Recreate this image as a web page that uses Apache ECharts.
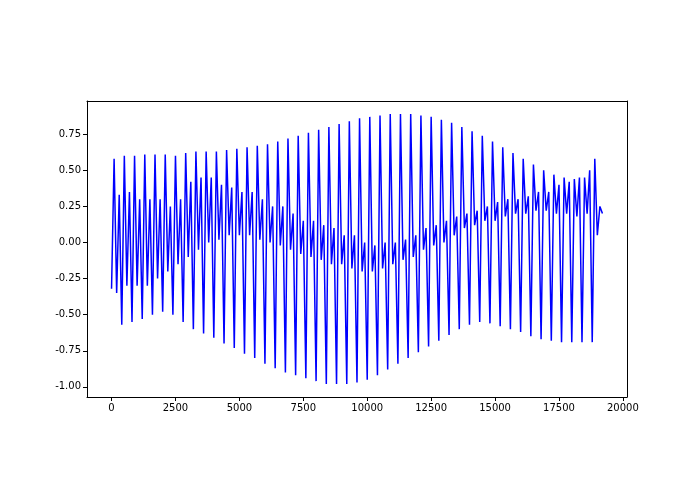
<!DOCTYPE html><html><head><meta charset="utf-8"><script src="https://cdn.jsdelivr.net/npm/echarts@6/dist/echarts.min.js"></script></head><body style="margin:0"><div id="c" style="width:695px;height:494px"></div><script>
const peaks=[0.58,0.6,0.6,0.61,0.61,0.61,0.6,0.62,0.63,0.63,0.63,0.64,0.65,0.66,0.67,0.68,0.7,0.72,0.74,0.76,0.78,0.8,0.82,0.84,0.86,0.87,0.88,0.89,0.89,0.89,0.88,0.87,0.85,0.83,0.8,0.77,0.74,0.7,0.66,0.62,0.58,0.54,0.5,0.47,0.45,0.44,0.45,0.58];
const troughs=[-0.32,-0.57,-0.55,-0.53,-0.5,-0.48,-0.5,-0.55,-0.6,-0.63,-0.66,-0.7,-0.73,-0.77,-0.8,-0.84,-0.87,-0.9,-0.92,-0.94,-0.96,-0.98,-0.98,-0.98,-0.97,-0.95,-0.92,-0.88,-0.84,-0.8,-0.76,-0.72,-0.68,-0.64,-0.6,-0.57,-0.55,-0.56,-0.58,-0.6,-0.62,-0.65,-0.67,-0.68,-0.69,-0.69,-0.69,-0.69];
const midHigh=[0.33,0.35,0.3,0.3,0.3,0.25,0.3,0.42,0.45,0.45,0.4,0.38,0.35,0.35,0.3,0.25,0.25,0.2,0.15,0.15,0.12,0.1,0.05,0.05,0.0,-0.02,0.0,0.0,0.02,0.05,0.1,0.12,0.15,0.18,0.2,0.22,0.25,0.28,0.3,0.3,0.32,0.35,0.35,0.4,0.42,0.45,0.5,0.25];
const midLow=[-0.35,-0.3,-0.3,-0.3,-0.25,-0.2,-0.15,-0.1,-0.05,0.0,0.02,0.05,0.05,0.05,0.02,0.0,-0.02,-0.05,-0.08,-0.1,-0.12,-0.15,-0.15,-0.18,-0.2,-0.2,-0.18,-0.15,-0.12,-0.1,-0.05,-0.02,0.0,0.05,0.1,0.12,0.15,0.15,0.18,0.2,0.2,0.22,0.22,0.2,0.2,0.18,0.2,0.05];
const endValue=0.2;
const step=100;
const xTicks=[0,2500,5000,7500,10000,12500,15000,17500,20000];
const yTicks=[-1,-0.75,-0.5,-0.25,0,0.25,0.5,0.75];
const data=[];
for(let i=0;i<peaks.length;i++){const b=i*4*step;data.push([b,troughs[i]],[b+step,peaks[i]],[b+2*step,midLow[i]],[b+3*step,midHigh[i]]);}
data.push([peaks.length*4*step,endValue]);
const ax={axisLine:{show:true,onZero:false,lineStyle:{color:'#000',width:1}},axisTick:{show:false},axisLabel:{show:false},splitLine:{show:false}};
const font={color:'#000',fontSize:10,fontFamily:'DejaVu Sans'};
const ch=echarts.init(document.getElementById('c'));
ch.setOption({animation:false,grid:{left:87,right:68,top:101,bottom:97},
xAxis:[{type:'value',min:-960,max:20160,axisLine:{onZero:false,lineStyle:{color:'#000'}},splitLine:{show:false},axisTick:{customValues:xTicks,length:4,lineStyle:{color:'#000'}},axisLabel:{customValues:xTicks,...font,margin:6,formatter:v=>String(v)}},{type:'value',position:'top',min:-960,max:20160,...ax}],
yAxis:[{type:'value',min:-1.07,max:0.98,axisLine:{show:true,onZero:false,lineStyle:{color:'#000'}},splitLine:{show:false},axisTick:{show:true,customValues:yTicks,length:4,lineStyle:{color:'#000'}},axisLabel:{customValues:yTicks,...font,margin:6,formatter:v=>v.toFixed(2)}},{type:'value',position:'right',min:-1.07,max:0.98,...ax}],
series:[{type:'line',data:data,showSymbol:false,lineStyle:{color:'#0000ff',width:1.5},itemStyle:{color:'#0000ff'}}]});
</script></body></html>
